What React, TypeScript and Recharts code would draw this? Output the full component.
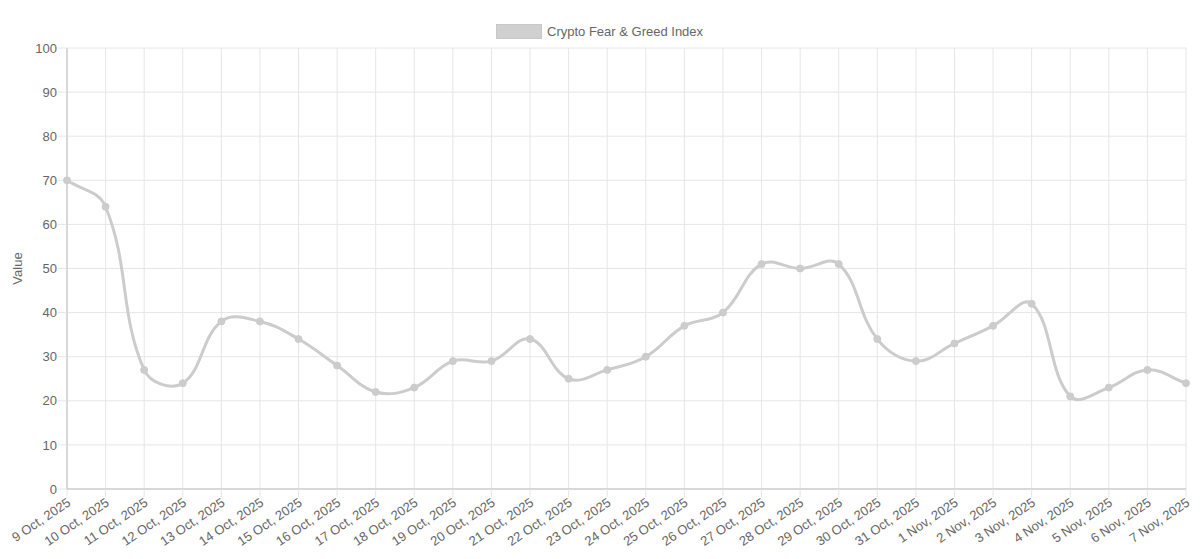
import React from "react"
import { LineChart, Line, XAxis, YAxis, CartesianGrid } from "recharts"

const dates = [
  "9 Oct, 2025", "10 Oct, 2025", "11 Oct, 2025", "12 Oct, 2025", "13 Oct, 2025",
  "14 Oct, 2025", "15 Oct, 2025", "16 Oct, 2025", "17 Oct, 2025", "18 Oct, 2025",
  "19 Oct, 2025", "20 Oct, 2025", "21 Oct, 2025", "22 Oct, 2025", "23 Oct, 2025",
  "24 Oct, 2025", "25 Oct, 2025", "26 Oct, 2025", "27 Oct, 2025", "28 Oct, 2025",
  "29 Oct, 2025", "30 Oct, 2025", "31 Oct, 2025", "1 Nov, 2025", "2 Nov, 2025",
  "3 Nov, 2025", "4 Nov, 2025", "5 Nov, 2025", "6 Nov, 2025", "7 Nov, 2025",
]

const fearGreed = [
  70, 64, 27, 24, 38, 38, 34, 28, 22, 23,
  29, 29, 34, 25, 27, 30, 37, 40, 51, 50,
  51, 34, 29, 33, 37, 42, 21, 23, 27, 24,
]

const yTicks = [0, 10, 20, 30, 40, 50, 60, 70, 80, 90, 100]

const seriesName = "Crypto Fear & Greed Index"

const data = dates.map((date, i) => ({ date, value: fearGreed[i] }))

const FONT = '"Liberation Sans", Arial, Helvetica, sans-serif'
const LINE_COLOR = "#cccccc"

// chart.js style spline (tension 0.4)
const chartJsCurve = (context: any) => {
  let pts: number[][] = []
  return {
    areaStart() {},
    areaEnd() {},
    lineStart() {
      pts = []
    },
    point(x: number, y: number) {
      pts.push([+x, +y])
    },
    lineEnd() {
      const n = pts.length
      if (!n) return
      context.moveTo(pts[0][0], pts[0][1])
      if (n === 1) return
      const t = 0.4
      const cps = pts.map((p, i) => {
        const prev = pts[i - 1] || p
        const next = pts[i + 1] || p
        const d01 = Math.hypot(p[0] - prev[0], p[1] - prev[1])
        const d12 = Math.hypot(next[0] - p[0], next[1] - p[1])
        let s01 = d01 / (d01 + d12)
        let s12 = d12 / (d01 + d12)
        if (isNaN(s01)) s01 = 0
        if (isNaN(s12)) s12 = 0
        const fa = t * s01
        const fb = t * s12
        return {
          prev: [p[0] - fa * (next[0] - prev[0]), p[1] - fa * (next[1] - prev[1])],
          next: [p[0] + fb * (next[0] - prev[0]), p[1] + fb * (next[1] - prev[1])],
        }
      })
      for (let i = 1; i < n; i++) {
        context.bezierCurveTo(
          cps[i - 1].next[0], cps[i - 1].next[1],
          cps[i].prev[0], cps[i].prev[1],
          pts[i][0], pts[i][1]
        )
      }
    },
  }
}

const DateTick = ({ x, y, payload }: any) => (
  <g transform={`translate(${x},${y})`}>
    <text
      x={0}
      y={0}
      dy={8}
      textAnchor="end"
      transform="rotate(-34)"
      fill="#666"
      fontSize={13}
      fontFamily={FONT}
    >
      {payload.value}
    </text>
  </g>
)

export default function App() {
  return (
    <div style={{ position: "absolute", left: 0, top: 0, width: 1200, height: 559, background: "#fff", fontFamily: FONT }}>
      <div
        style={{
          position: "absolute",
          top: 24,
          left: 496,
          display: "flex",
          alignItems: "center",
          fontSize: 13,
          color: "#666",
        }}
      >
        <span style={{ display: "inline-block", width: 44, height: 13, background: "#d0d0d0", border: "1px solid #c8c8c8", marginRight: 5 }} />
        <span>{seriesName}</span>
      </div>
      <LineChart width={1200} height={559} data={data} margin={{ top: 48, right: 14, bottom: 0, left: 0 }}>
        <CartesianGrid stroke="#e6e6e6" strokeWidth={1} />
        <XAxis
          dataKey="date"
          interval={0}
          height={70}
          tick={<DateTick />}
          tickSize={8}
          tickMargin={1}
          tickLine={{ stroke: "#e6e6e6" }}
          axisLine={{ stroke: "#bdbdbd" }}
        />
        <YAxis
          domain={[0, 100]}
          ticks={yTicks}
          interval={0}
          width={67}
          tickSize={9}
          tickMargin={1}
          tickLine={{ stroke: "#e6e6e6" }}
          axisLine={{ stroke: "#bdbdbd" }}
          tick={{ fill: "#666", fontSize: 13, fontFamily: FONT }}
          label={{
            content: ({ viewBox }: any) => (
              <text
                x={viewBox.x + 22}
                y={viewBox.y + viewBox.height / 2}
                textAnchor="middle"
                transform={`rotate(-90, ${viewBox.x + 22}, ${viewBox.y + viewBox.height / 2})`}
                fill="#666"
                fontSize={13}
                fontFamily={FONT}
              >
                Value
              </text>
            ),
          }}
        />
        <Line
          dataKey="value"
          name={seriesName}
          type={chartJsCurve as any}
          stroke={LINE_COLOR}
          strokeWidth={3}
          dot={{ r: 3.5, fill: LINE_COLOR, stroke: LINE_COLOR, strokeWidth: 1 }}
          isAnimationActive={false}
        />
      </LineChart>
    </div>
  )
}
